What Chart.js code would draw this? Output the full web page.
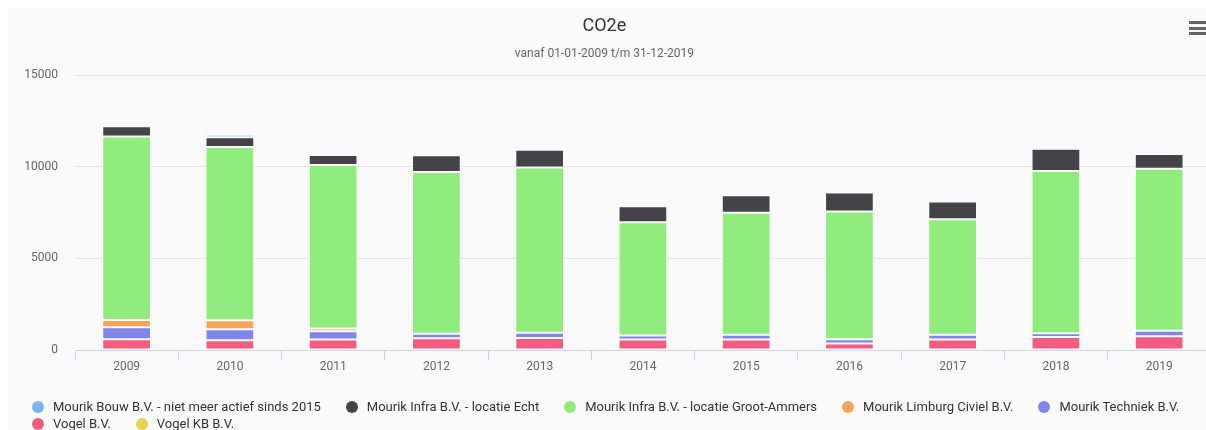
<!DOCTYPE html>
<html lang="nl">
<head>
<meta charset="utf-8">
<title>CO2e</title>
<script src="https://cdn.jsdelivr.net/npm/chart.js@4.4.1/dist/chart.umd.min.js"></script>
<style>
    html, body { margin: 0; padding: 0; background: #ffffff; overflow: hidden; }
    body { width: 1206px; height: 430px; position: relative; font-family: Roboto, sans-serif; }
    .panel { position: absolute; left: 8px; top: 8px; right: 0; bottom: 0; background: #fafafa; }
    #chart-wrap { position: absolute; left: -2px; top: 0; width: 1222px; height: 430px; }
    .menu { position: absolute; left: 1189px; top: 21px; width: 20px; }
    .menu span { display: block; height: 3px; background: #666666; margin-bottom: 2.5px; }
    .legend { position: absolute; left: 30px; top: 398px; font-size: 13px; color: #333333; }
    .legend-row { display: flex; height: 17px; align-items: center; white-space: nowrap; }
    .legend-item { display: flex; align-items: center; margin-right: 23px; }
    .legend-marker { width: 12px; height: 12px; border-radius: 50%; margin: 0 9px 0 2px; }
</style>
</head>
<body>
<div class="panel"></div>
<div id="chart-wrap"><canvas id="co2-chart" width="1222" height="430"></canvas></div>
<div class="menu"><span></span><span></span><span></span></div>
<div class="legend" id="legend"></div>

<script>
// Categories and tick labels
const years = ['2009', '2010', '2011', '2012', '2013', '2014', '2015', '2016', '2017', '2018', '2019'];
const yTickValues = [0, 5000, 10000, 15000];

// Series values (ton CO2e)
const mourikBouw = [0, 145, 0, 0, 0, 0, 0, 0, 0, 0, 0];
const mourikInfraEcht = [550, 530, 545, 910, 970, 870, 965, 1040, 970, 1220, 805];
const mourikInfraGrootAmmers = [10010, 9450, 8915, 8820, 9010, 6180, 6650, 6970, 6300, 8840, 8835];
const mourikLimburgCiviel = [400, 490, 150, 0, 0, 0, 0, 0, 0, 0, 0];
const mourikTechniek = [660, 600, 450, 250, 290, 220, 260, 230, 260, 210, 300];
const vogelBV = [580, 530, 570, 640, 650, 570, 570, 350, 570, 710, 750];
const vogelKB = [0, 0, 0, 0, 0, 0, 0, 0, 0, 0, 0];

(function () {
    'use strict';

    const FONT = 'Roboto, sans-serif';

    // Legend order (top of the stack first, like the original)
    const series = [
        { label: 'Mourik Bouw B.V. - niet meer actief sinds 2015', data: mourikBouw, color: '#7cb5ec' },
        { label: 'Mourik Infra B.V. - locatie Echt', data: mourikInfraEcht, color: '#434348' },
        { label: 'Mourik Infra B.V. - locatie Groot-Ammers', data: mourikInfraGrootAmmers, color: '#90ed7d' },
        { label: 'Mourik Limburg Civiel B.V.', data: mourikLimburgCiviel, color: '#f7a35c' },
        { label: 'Mourik Techniek B.V.', data: mourikTechniek, color: '#8085e9' },
        { label: 'Vogel B.V.', data: vogelBV, color: '#f15c80' },
        { label: 'Vogel KB B.V.', data: vogelKB, color: '#e4d354' }
    ];

    /**
     * Build the html legend, five items on the first row
     */
    function buildLegend() {
        const legend = document.getElementById('legend');
        [series.slice(0, 5), series.slice(5)].forEach(function (row) {
            const rowEl = document.createElement('div');
            rowEl.className = 'legend-row';
            row.forEach(function (s) {
                const item = document.createElement('div');
                item.className = 'legend-item';
                const marker = document.createElement('span');
                marker.className = 'legend-marker';
                marker.style.background = s.color;
                const text = document.createElement('span');
                text.textContent = s.label;
                item.appendChild(marker);
                item.appendChild(text);
                rowEl.appendChild(item);
            });
            legend.appendChild(rowEl);
        });
    }

    /**
     * Draw the stacked column chart
     */
    function renderChart() {
        // Chart.js stacks the first dataset at the bottom, so reverse
        const datasets = series.slice().reverse().map(function (s) {
            return {
                label: s.label,
                data: s.data,
                backgroundColor: s.color,
                borderColor: '#ffffff',
                borderWidth: 1,
                borderSkipped: false,
                categoryPercentage: 1,
                barPercentage: 0.472
            };
        });

        new Chart(document.getElementById('co2-chart'), {
            type: 'bar',
            data: { labels: years, datasets: datasets },
            options: {
                responsive: false,
                animation: false,
                devicePixelRatio: 1,
                layout: { padding: { left: 0, right: 9.2, top: 0, bottom: 55.6 } },
                plugins: {
                    legend: { display: false },
                    tooltip: { enabled: false },
                    title: {
                        display: true,
                        text: 'CO2e',
                        color: '#333333',
                        font: { family: FONT, size: 18, weight: 'normal', lineHeight: 1.2 },
                        padding: { top: 16, bottom: 0 }
                    },
                    subtitle: {
                        display: true,
                        text: 'vanaf 01-01-2009 t/m 31-12-2019',
                        color: '#666666',
                        font: { family: FONT, size: 12, weight: 'normal', lineHeight: 1.2 },
                        padding: { top: 9.2, bottom: 13.8 }
                    }
                },
                scales: {
                    x: {
                        stacked: true,
                        offset: true,
                        grid: {
                            offset: true,
                            drawOnChartArea: false,
                            drawTicks: true,
                            tickLength: 10,
                            color: '#ccd6eb'
                        },
                        border: { display: true, color: '#ccd6eb', width: 1 },
                        ticks: {
                            color: '#666666',
                            padding: 0,
                            maxRotation: 0,
                            font: { family: FONT, size: 12 }
                        }
                    },
                    y: {
                        stacked: true,
                        min: 0,
                        max: 15000,
                        afterBuildTicks: function (scale) {
                            scale.ticks = yTickValues.map(function (v) { return { value: v }; });
                        },
                        afterFit: function (scale) { scale.width = 77; },
                        grid: { color: '#e6e6e6', drawTicks: false },
                        border: { display: false },
                        ticks: {
                            color: '#666666',
                            padding: 17,
                            font: { family: FONT, size: 12 },
                            callback: function (value) { return String(value); }
                        }
                    }
                }
            }
        });
    }

    function init() {
        buildLegend();
        renderChart();
    }

    init();
})();
</script>
</body>
</html>
